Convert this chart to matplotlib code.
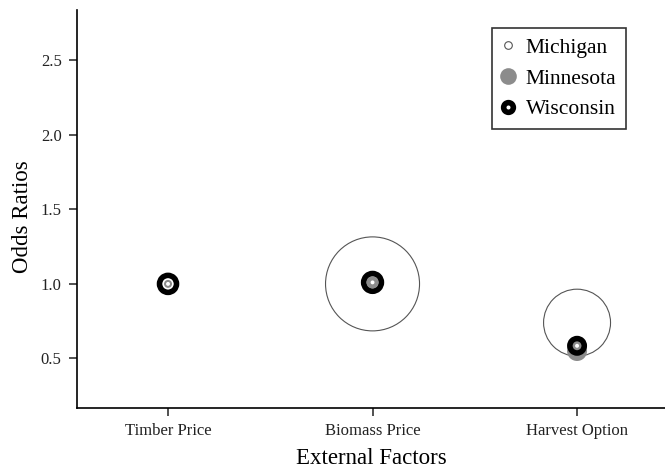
import matplotlib
matplotlib.use("Agg")
import matplotlib.pyplot as plt
from matplotlib.lines import Line2D

# Odds ratios of external factors by state; bubble area shows each estimate's weight
factors = ["Timber Price", "Biomass Price", "Harvest Option"]
michigan = [1.00, 1.00, 0.74]
minnesota = [1.00, 1.01, 0.55]
wisconsin = [1.00, 1.01, 0.585]
michigan_size = [13, 4580, 2325]
minnesota_size = [33, 75, 207]
wisconsin_size = [150, 164, 108]
yticks = [0.5, 1.0, 1.5, 2.0, 2.5]

plt.rcParams["font.family"] = ["Liberation Serif", "DejaVu Serif"]

fig = plt.figure(figsize=(6.65, 4.71), dpi=100)
ax = fig.add_axes([77 / 665, 1 - 408 / 471, 1 - 77 / 665, (408 - 10) / 471])

x = list(range(1, len(factors) + 1))

ax.scatter(x, michigan, s=michigan_size, facecolor="white",
           edgecolor="#555555", linewidth=0.8, zorder=2)
ax.scatter(x, minnesota, s=minnesota_size, facecolor="#8c8c8c",
           edgecolor="none", zorder=3)
ax.scatter(x, wisconsin, s=wisconsin_size, facecolor="none",
           edgecolor="black", linewidth=4, zorder=4)
ax.scatter(x, wisconsin, s=8, facecolor="white", edgecolor="none", zorder=5)

ax.set_xlim(0.555, 3.43)
ax.set_ylim(0.168, 2.836)
ax.set_xticks(x)
ax.set_xticklabels(factors, fontsize=12)
ax.set_yticks(yticks)
ax.set_yticklabels([f"{v:.1f}" for v in yticks], fontsize=12)
ax.tick_params(direction="out", length=6, width=1.1, pad=5, colors="#222222")

for side in ("top", "right"):
    ax.spines[side].set_visible(False)
for side in ("left", "bottom"):
    ax.spines[side].set_linewidth(1.2)

ax.set_xlabel("External Factors", fontsize=16.5, labelpad=6)
ax.set_ylabel("Odds Ratios", fontsize=16.5)
ax.yaxis.set_label_coords(-0.074, 0.48)

handles = [
    Line2D([], [], linestyle="none", marker="o", markersize=5.5,
           markerfacecolor="white", markeredgecolor="#555555", markeredgewidth=0.8),
    Line2D([], [], linestyle="none", marker="o", markersize=12,
           markerfacecolor="#8c8c8c", markeredgecolor="none"),
    Line2D([], [], linestyle="none", marker="o", markersize=7,
           markerfacecolor="white", markeredgecolor="black", markeredgewidth=4),
]
leg = ax.legend(handles, ["Michigan", "Minnesota", "Wisconsin"],
                loc="upper right", bbox_to_anchor=(626 / 665, 1 - 28 / 471),
                bbox_transform=fig.transFigure, fontsize=15.5, frameon=True,
                fancybox=False, handlelength=0.6, handletextpad=0.5,
                labelspacing=0.5, borderpad=0.45, borderaxespad=0)
leg.get_frame().set_edgecolor("black")
leg.get_frame().set_linewidth(1.2)

fig.savefig("out.png", dpi=100)
